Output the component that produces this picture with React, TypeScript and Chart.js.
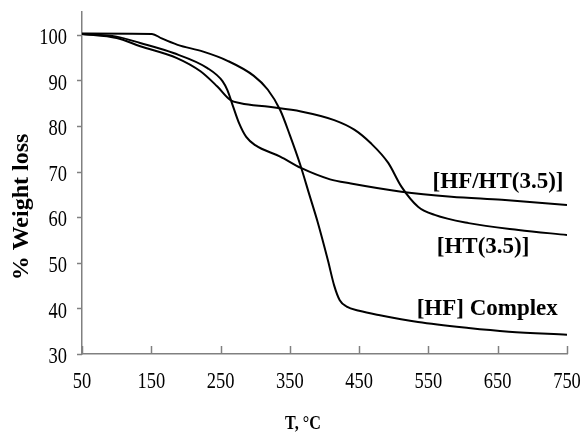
import React, { useEffect, useRef } from "react";
import { Chart, registerables } from "chart.js";

Chart.register(...registerables);

// ---- data ----
const hfTemps = [50, 151, 165, 188, 225, 260, 298, 318, 336, 350, 365, 378, 390, 405, 414, 422, 432, 450, 480, 535, 608, 666, 750];
const hfWeights = [100.3, 100.2, 99.2, 97.8, 96.3, 94.3, 91, 88, 83.5, 78, 71.5, 65, 59, 50.5, 45, 41.8, 40.4, 39.5, 38.5, 37, 35.7, 34.9, 34.2];

const htTemps = [50, 100, 134, 187, 221, 245, 264, 279, 320, 366, 414, 443, 467, 492, 511, 535, 559, 608, 680, 750];
const htWeights = [100.2, 99.3, 97.5, 94.9, 92, 88.7, 85.7, 85, 84.2, 83.2, 81.3, 79.2, 76.2, 71.9, 66.7, 62.3, 60.5, 58.7, 57.2, 56.1];

const hfhtTemps = [50, 100, 134, 182, 231, 253, 260, 268, 277, 287, 300, 336, 366, 408, 438, 511, 583, 656, 750];
const hfhtWeights = [100.2, 99.6, 98.2, 96, 92.7, 89.8, 87.8, 84.3, 80.5, 77.6, 75.8, 73.3, 70.8, 68.3, 67.4, 65.6, 64.5, 63.8, 62.7];

const xTicks = [50, 150, 250, 350, 450, 550, 650, 750];
const yTicks = [30, 40, 50, 60, 70, 80, 90, 100];

const seriesLabels = ["[HF/HT(3.5)]", "[HT(3.5)]", "[HF] Complex"];
const labelTemps = [556, 562, 533];
const labelWeights = [66.4, 52.2, 38.6];

const xTitle = "T, °C";
const yTitle = "% Weight loss";

const toPoints = (xs: number[], ys: number[]) => xs.map((x, i) => ({ x, y: ys[i] }));

const overlay = {
  id: "overlay",
  afterDraw(chart: any) {
    const { ctx, scales, chartArea } = chart;
    const xs = scales.x;
    const ys = scales.y;
    ctx.save();
    ctx.strokeStyle = "#808080";
    ctx.lineWidth = 1.5;
    // x ticks (inward)
    xTicks.forEach((t) => {
      const px = Math.round(xs.getPixelForValue(t)) + 0.5;
      ctx.beginPath();
      ctx.moveTo(px, chartArea.bottom);
      ctx.lineTo(px, chartArea.bottom - 8);
      ctx.stroke();
    });
    // y ticks (outward)
    yTicks.forEach((t) => {
      const py = Math.round(ys.getPixelForValue(t)) + 0.5;
      ctx.beginPath();
      ctx.moveTo(chartArea.left, py);
      ctx.lineTo(chartArea.left - 5, py);
      ctx.stroke();
    });
    ctx.fillStyle = "#000";
    ctx.font = '24px "Liberation Serif"';
    ctx.textBaseline = "middle";
    // y tick labels
    ctx.textAlign = "right";
    yTicks.forEach((t) => {
      const py = ys.getPixelForValue(t);
      ctx.save();
      ctx.translate(chartArea.left - 15, py + 3);
      ctx.scale(0.77, 1);
      ctx.fillText(String(t), 0, 0);
      ctx.restore();
    });
    // x tick labels
    ctx.textAlign = "center";
    xTicks.forEach((t) => {
      const px = xs.getPixelForValue(t);
      ctx.save();
      ctx.translate(px, chartArea.bottom + 28);
      ctx.scale(0.77, 1);
      ctx.fillText(String(t), 0, 0);
      ctx.restore();
    });
    // series labels
    ctx.font = 'bold 23px "Liberation Serif"';
    ctx.textAlign = "left";
    ctx.textBaseline = "alphabetic";
    seriesLabels.forEach((s, i) => {
      ctx.fillText(s, xs.getPixelForValue(labelTemps[i]), ys.getPixelForValue(labelWeights[i]));
    });
    // x title
    ctx.save();
    ctx.font = 'bold 19px "Liberation Serif"';
    ctx.textAlign = "center";
    ctx.translate(303, 429);
    ctx.scale(0.85, 1);
    ctx.fillText(xTitle, 0, 0);
    ctx.restore();
    // y title
    ctx.save();
    ctx.font = 'bold 24px "Liberation Serif"';
    ctx.translate(22, 207);
    ctx.rotate(-Math.PI / 2);
    ctx.textAlign = "center";
    ctx.textBaseline = "middle";
    ctx.fillText(yTitle, 0, 0);
    ctx.restore();
    ctx.restore();
  },
};

export default function App() {
  const ref = useRef<HTMLCanvasElement | null>(null);
  useEffect(() => {
    document.body.style.margin = "0";
    if (!ref.current) return;
    const line = (xs: number[], ys: number[]) => ({
      data: toPoints(xs, ys),
      borderColor: "#000",
      borderWidth: 2,
      pointRadius: 0,
      fill: false,
      cubicInterpolationMode: "monotone" as const,
    });
    const chart = new Chart(ref.current, {
      type: "line",
      data: {
        datasets: [line(hfhtTemps, hfhtWeights), line(htTemps, htWeights), line(hfTemps, hfWeights)],
      },
      options: {
        animation: false,
        responsive: false,
        events: [],
        layout: { padding: { left: 82, right: 18, top: 12, bottom: 80 } },
        plugins: { legend: { display: false }, tooltip: { enabled: false } },
        scales: {
          x: {
            type: "linear",
            min: 50,
            max: 750,
            ticks: { display: false },
            grid: { display: false },
            border: { display: true, color: "#808080", width: 1.5 },
            afterFit: (s: any) => { s.height = 0; },
          },
          y: {
            type: "linear",
            min: 30,
            max: 105,
            ticks: { display: false },
            grid: { display: false },
            border: { display: true, color: "#808080", width: 1.5 },
            afterFit: (s: any) => { s.width = 0; },
          },
        },
      },
      plugins: [overlay],
    });
    return () => chart.destroy();
  }, []);
  return <canvas ref={ref} width={585} height={434} style={{ display: "block" }} />;
}
